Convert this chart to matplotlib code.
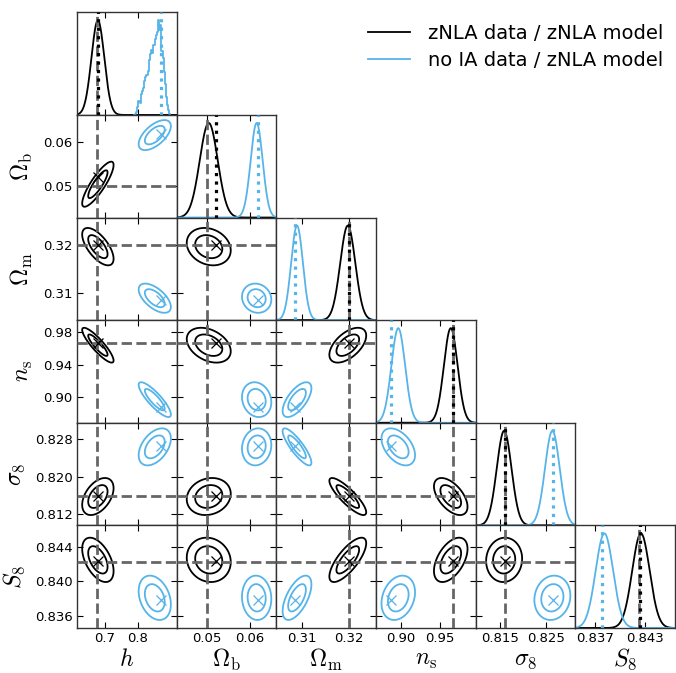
import numpy as np
import matplotlib
matplotlib.use('Agg')
import matplotlib.pyplot as plt
from matplotlib.lines import Line2D

plt.rcParams['mathtext.fontset'] = 'cm'
plt.rcParams['font.family'] = ['DejaVu Sans']

# ---------------- data ----------------
param_labels = [r'$h$', r'$\Omega_{\rm b}$', r'$\Omega_{\rm m}$', r'$n_{\rm s}$', r'$\sigma_8$', r'$S_8$']
x_limits = [(0.6155, 0.9186), (0.0429, 0.0662), (0.3045, 0.3257),
            (0.868, 0.996), (0.8096, 0.8313), (0.8346, 0.8466)]
y_limits = [None, (0.0428, 0.0662), (0.3043, 0.3258),
            (0.868, 0.995), (0.8097, 0.8314), (0.8346, 0.8465)]
x_ticks = [[0.7, 0.8], [0.05, 0.06], [0.31, 0.32], [0.90, 0.95], [0.815, 0.825], [0.837, 0.843]]
x_ticklabels = [['0.7', '0.8'], ['0.05', '0.06'], ['0.31', '0.32'], ['0.90', '0.95'],
                ['0.815', '0.825'], ['0.837', '0.843']]
y_ticks = [[], [0.05, 0.06], [0.31, 0.32], [0.90, 0.94, 0.98], [0.812, 0.820, 0.828], [0.836, 0.840, 0.844]]
y_ticklabels = [[], ['0.05', '0.06'], ['0.31', '0.32'], ['0.90', '0.94', '0.98'],
                ['0.812', '0.820', '0.828'], ['0.836', '0.840', '0.844']]
truth = [0.6766, 0.05, 0.32, 0.9665, 0.8159, 0.8423]

series_names = ['zNLA data / zNLA model', 'no IA data / zNLA model']
series_colors = ['#000000', '#56B4E9']

# zNLA data / zNLA model
znla_center = [0.679, 0.0504, 0.3197, 0.964, 0.8158, 0.8425]
znla_sigma = [0.0195, 0.0021, 0.0016, 0.0088, 0.0016, 0.00105]
znla_marker = [0.6796, 0.0520, 0.3200, 0.9668, 0.8159, 0.8424]
znla_corr = [
    [1.00, 0.85, -0.65, -0.88, 0.45, -0.50],
    [0.85, 1.00, -0.20, -0.35, 0.15, -0.10],
    [-0.65, -0.20, 1.00, 0.55, -0.85, 0.75],
    [-0.88, -0.35, 0.55, 1.00, -0.55, 0.50],
    [0.45, 0.15, -0.85, -0.55, 1.00, 0.05],
    [-0.50, -0.10, 0.75, 0.50, 0.05, 1.00],
]

# no IA data / zNLA model
noia_center = [0.852, 0.0616, 0.3089, 0.8966, 0.8263, 0.8381]
noia_sigma = [0.020, 0.0014, 0.00125, 0.0088, 0.0016, 0.00105]
noia_marker = [0.870, 0.0619, 0.30845, 0.887, 0.82645, 0.8378]
noia_corr = [
    [1.00, 0.60, -0.60, -0.85, 0.45, -0.30],
    [0.60, 1.00, -0.10, -0.15, 0.10, -0.05],
    [-0.60, -0.10, 1.00, 0.65, -0.85, 0.60],
    [-0.85, -0.15, 0.65, 1.00, -0.45, 0.25],
    [0.45, 0.10, -0.85, -0.45, 1.00, 0.10],
    [-0.30, -0.05, 0.60, 0.25, 0.10, 1.00],
]

# no IA h marginal (histogram)
noia_h_bins = [0.7900, 0.7935, 0.7970, 0.8005, 0.8040, 0.8075, 0.8110, 0.8145, 0.8180, 0.8215,
               0.8250, 0.8285, 0.8320, 0.8355, 0.8390, 0.8425, 0.8460, 0.8495, 0.8530, 0.8565,
               0.8600, 0.8635, 0.8670, 0.8705, 0.8740, 0.8775, 0.8810, 0.8845, 0.8880, 0.8915,
               0.8950, 0.8985]
noia_h_hist = [0.00, 0.01, 0.03, 0.08, 0.15, 0.13, 0.22, 0.25, 0.28, 0.36,
               0.40, 0.42, 0.46, 0.58, 0.64, 0.69, 0.66, 0.74, 0.80, 0.84,
               0.88, 1.00, 0.90, 0.95, 0.68, 0.60, 0.45, 0.33, 0.19, 0.10,
               0.05, 0.01]

series = [
    dict(center=znla_center, sigma=znla_sigma, marker=znla_marker, corr=znla_corr, color=series_colors[0]),
    dict(center=noia_center, sigma=noia_sigma, marker=noia_marker, corr=noia_corr, color=series_colors[1]),
]

# ---------------- figure ----------------
n = 6
fig = plt.figure(figsize=(6.76, 6.73), dpi=100)
gs = fig.add_gridspec(n, n, left=0.1139, right=0.9985, top=0.9817, bottom=0.0669,
                      wspace=0, hspace=0)

truth_kw = dict(color='#666666', lw=2.0, ls='--', zorder=3)
spine_color = '#333333'
chi2_levels = [-2 * np.log(1 - 0.68), -2 * np.log(1 - 0.95)]

for i in range(n):
    for j in range(i + 1):
        ax = fig.add_subplot(gs[i, j])
        for sp in ax.spines.values():
            sp.set_color(spine_color)
            sp.set_linewidth(1.0)
        ax.tick_params(direction='in', top=True, right=True, length=4, width=0.8,
                       labelsize=9.5, colors='black', pad=3)
        if i == j:
            xx = np.linspace(*x_limits[j], 400)
            for k, s in enumerate(series):
                if j == 0 and k == 1:
                    ax.plot(noia_h_bins, noia_h_hist, drawstyle='steps-mid', color=s['color'], lw=1.3)
                else:
                    yy = np.exp(-0.5 * ((xx - s['center'][j]) / s['sigma'][j]) ** 2)
                    ax.plot(xx, yy, color=s['color'], lw=1.3)
            ax.axvline(truth[j], **truth_kw)
            for s in series:
                ax.axvline(s['marker'][j], color=s['color'], lw=2.3, ls=':', zorder=4)
            ax.set_ylim(0, 1.085)
            ax.set_yticks([])
            ax.tick_params(left=False, right=False)
        else:
            gx = np.linspace(*x_limits[j], 300)
            gy = np.linspace(*y_limits[i], 300)
            X, Y = np.meshgrid(gx, gy)
            for s in series:
                sx, sy = s['sigma'][j], s['sigma'][i]
                rho = s['corr'][i][j]
                dx = (X - s['center'][j]) / sx
                dy = (Y - s['center'][i]) / sy
                chi2 = (dx ** 2 - 2 * rho * dx * dy + dy ** 2) / (1 - rho ** 2)
                ax.contour(X, Y, chi2, levels=chi2_levels, colors=s['color'], linewidths=1.3)
            ax.axvline(truth[j], **truth_kw)
            ax.axhline(truth[i], **truth_kw)
            for s in series:
                ax.plot(s['marker'][j], s['marker'][i], marker='x', color=s['color'],
                        ms=6.5, mew=0.9, zorder=5, ls='none')
            ax.set_ylim(*y_limits[i])
            ax.set_yticks(y_ticks[i])
            if j == 0:
                ax.set_yticklabels(y_ticklabels[i])
                ax.set_ylabel(param_labels[i], fontsize=17, labelpad=6)
            else:
                ax.set_yticklabels([])
        ax.set_xlim(*x_limits[j])
        ax.set_xticks(x_ticks[j])
        if i == n - 1:
            ax.set_xticklabels(x_ticklabels[j])
            ax.set_xlabel(param_labels[j], fontsize=17, labelpad=1)
        else:
            ax.set_xticklabels([])

handles = [Line2D([0], [0], color=c, lw=1.3) for c in series_colors]
fig.legend(handles, series_names, loc='upper right', bbox_to_anchor=(1.007, 0.99),
           frameon=False, fontsize=14, handlelength=2.2, handletextpad=0.9, labelspacing=0.4)

fig.savefig('out.png', dpi=100)
